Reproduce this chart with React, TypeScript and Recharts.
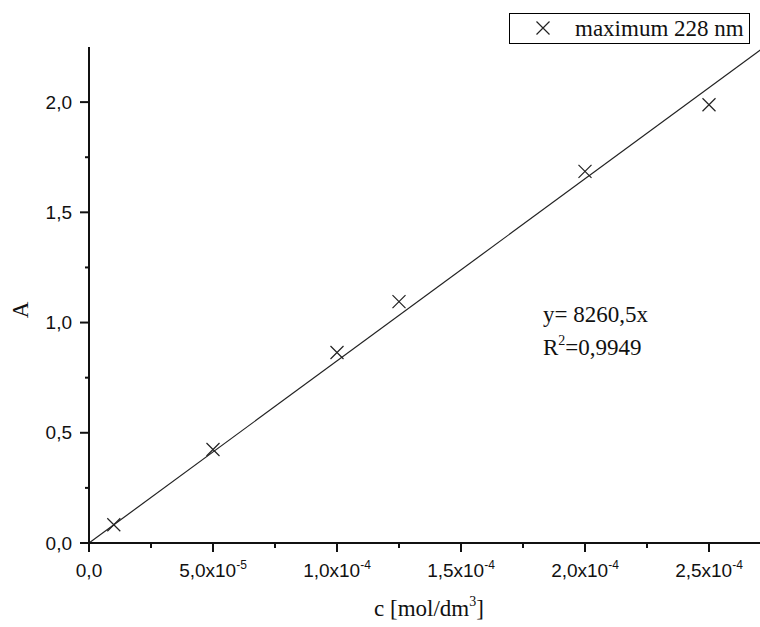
import { ComposedChart, Scatter, Line, XAxis, YAxis, Customized } from 'recharts'

// measured calibration points
const concentration = [1e-5, 5e-5, 1e-4, 1.25e-4, 2e-4, 2.5e-4]
const absorbance = [0.083, 0.424, 0.864, 1.095, 1.686, 1.988]

// linear fit through origin
const fitSlope = 8260.5
const fitRange = [0, 2.75e-4]

const xTicks = [0, 2.5e-5, 5e-5, 7.5e-5, 1e-4, 1.25e-4, 1.5e-4, 1.75e-4, 2e-4, 2.25e-4, 2.5e-4, 2.75e-4]
const xLabelValues = [0, 5e-5, 1e-4, 1.5e-4, 2e-4, 2.5e-4]
const xLabelMantissa = ['0,0', '5,0', '1,0', '1,5', '2,0', '2,5']
const xLabelExponent = ['', '-5', '-4', '-4', '-4', '-4']

const yTicks = [0, 0.25, 0.5, 0.75, 1, 1.25, 1.5, 1.75, 2]
const yLabelValues = [0, 0.5, 1, 1.5, 2]
const yLabels = ['0,0', '0,5', '1,0', '1,5', '2,0']

const seriesName = 'maximum 228 nm'

const points = concentration.map((x, i) => ({ x, y: absorbance[i] }))
const fitLine = fitRange.map((x) => ({ x, y: fitSlope * x }))

const SANS = 'Liberation Sans, Arial, sans-serif'
const SERIF = 'Liberation Serif, Times New Roman, serif'
const INK = '#111'

function Cross({ cx, cy, r = 6.5 }: { cx: number; cy: number; r?: number }) {
  return (
    <path
      d={`M${cx - r},${cy - r}L${cx + r},${cy + r}M${cx - r},${cy + r}L${cx + r},${cy - r}`}
      stroke="#222"
      strokeWidth={1.2}
      fill="none"
    />
  )
}

function XTick(props: any) {
  const { x, y, payload } = props
  const idx = xLabelValues.indexOf(payload.value)
  const major = idx >= 0
  return (
    <g>
      <line x1={x} y1={y} x2={x} y2={y + (major ? 9 : 5)} stroke={INK} strokeWidth={2} />
      {major && (
        <text x={x} y={y + 34} textAnchor="middle" fontFamily={SANS} fontSize={19} fill={INK}>
          {xLabelMantissa[idx]}
          {xLabelExponent[idx] && (
            <>
              x10
              <tspan fontSize={12} dy={-8}>
                {xLabelExponent[idx]}
              </tspan>
            </>
          )}
        </text>
      )}
    </g>
  )
}

function YTick(props: any) {
  const { x, y, payload } = props
  const idx = yLabelValues.indexOf(payload.value)
  const major = idx >= 0
  return (
    <g>
      <line x1={x - (major ? 9 : 4)} y1={y} x2={x} y2={y} stroke={INK} strokeWidth={2} />
      {major && (
        <text x={x - 17} y={y} dy="0.35em" textAnchor="end" fontFamily={SANS} fontSize={19} fill={INK}>
          {yLabels[idx]}
        </text>
      )}
    </g>
  )
}

function TopTick(props: any) {
  const { x, y } = props
  return <line x1={x} y1={y} x2={x} y2={y + 3} stroke={INK} strokeWidth={1.5} />
}

// legend box, fit equation and axis titles
function Overlay() {
  return (
    <g fontFamily={SERIF} fill={INK} fontSize={23}>
      <rect x={509.5} y={13.5} width={240} height={30} fill="#fff" stroke="#000" strokeWidth={1} />
      <Cross cx={543} cy={28} />
      <text x={575} y={36}>
        {seriesName}
      </text>
      <text x={543} y={322}>
        y= 8260,5x
      </text>
      <text x={543} y={355}>
        R<tspan fontSize={14} dy={-10}>2</tspan>
        <tspan dy={10}>=0,9949</tspan>
      </text>
      <text x={429} y={616} textAnchor="middle">
        c [mol/dm<tspan fontSize={14} dy={-10}>3</tspan>
        <tspan dy={10}>]</tspan>
      </text>
      <text x={28} y={310} textAnchor="middle" transform="rotate(-90 28 310)">
        A
      </text>
    </g>
  )
}

export default function App() {
  return (
    <div
      style={{
        position: 'fixed',
        left: 0,
        top: 0,
        width: 760,
        height: 627,
        overflow: 'hidden',
        background: '#fff',
      }}
    >
      <ComposedChart width={800} height={627} margin={{ top: 47, right: 29, bottom: 0, left: 0 }}>
        <XAxis
          xAxisId="bottom"
          dataKey="x"
          type="number"
          domain={[0, 2.75e-4]}
          ticks={xTicks}
          interval={0}
          height={84}
          tickSize={0}
          tickMargin={0}
          tickLine={false}
          tick={<XTick />}
          axisLine={{ stroke: INK, strokeWidth: 2 }}
          allowDataOverflow
        />
        <XAxis
          xAxisId="top"
          orientation="top"
          dataKey="x"
          type="number"
          domain={[0, 2.75e-4]}
          ticks={xTicks}
          interval={0}
          height={0}
          tickSize={0}
          tickMargin={0}
          tickLine={false}
          tick={<TopTick />}
          axisLine={{ stroke: INK, strokeWidth: 2 }}
          allowDataOverflow
        />
        <YAxis
          dataKey="y"
          type="number"
          domain={[0, 2.25]}
          ticks={yTicks}
          interval={0}
          width={89}
          tickSize={0}
          tickMargin={0}
          tickLine={false}
          tick={<YTick />}
          axisLine={{ stroke: INK, strokeWidth: 2 }}
          allowDataOverflow
        />
        <Line
          xAxisId="bottom"
          data={fitLine}
          dataKey="y"
          stroke="#222"
          strokeWidth={1.2}
          dot={false}
          activeDot={false}
          isAnimationActive={false}
        />
        <Scatter
          xAxisId="bottom"
          name={seriesName}
          data={points}
          shape={(p: any) => <Cross cx={p.cx} cy={p.cy} />}
          isAnimationActive={false}
        />
        <Customized component={<Overlay />} />
      </ComposedChart>
    </div>
  )
}
